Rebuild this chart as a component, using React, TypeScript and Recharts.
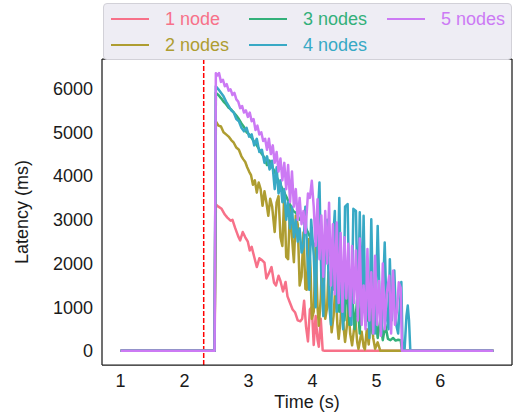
import { LineChart, Line, XAxis, YAxis, ReferenceLine, Label } from 'recharts';

// [time (s), latency (ms)]
const node1: [number, number][] = [
    [1.0, 10], [2.47, 10], [2.49, 3350], [2.53, 3300], [2.58, 3250], [2.63, 3120], [2.67, 3050], [2.72, 2980],
    [2.75, 3000], [2.79, 2820], [2.84, 2620], [2.87, 2530], [2.91, 2720], [2.95, 2600], [2.99, 2500], [3.02, 2300],
    [3.05, 2380], [3.09, 2150], [3.13, 1920], [3.17, 2120], [3.21, 2080], [3.25, 2020], [3.28, 1660], [3.32, 1780],
    [3.36, 1920], [3.40, 1560], [3.43, 1500], [3.47, 1720], [3.50, 1600], [3.54, 1360], [3.58, 1580], [3.61, 1250],
    [3.65, 1100], [3.69, 950], [3.73, 880], [3.77, 700], [3.81, 680], [3.84, 740], [3.87, 1150], [3.90, 560],
    [3.93, 220], [3.96, 950], [3.99, 1010], [4.02, 140], [4.05, 800], [4.08, 260], [4.10, 100], [4.13, 740],
    [4.16, 20], [4.18, 10], [6.83, 10],
];

const node2: [number, number][] = [
    [1.0, 10], [2.47, 10], [2.49, 5250], [2.53, 5150], [2.57, 5130], [2.61, 5000], [2.65, 4950], [2.69, 4900],
    [2.73, 4820], [2.77, 4760], [2.81, 4650], [2.85, 4600], [2.89, 4450], [2.92, 4380], [2.95, 4320], [2.98, 4200],
    [3.01, 4100], [3.04, 4020], [3.07, 3800], [3.10, 3900], [3.13, 3620], [3.16, 3850], [3.19, 3700], [3.22, 3320],
    [3.25, 3650], [3.28, 3400], [3.31, 3090], [3.34, 3480], [3.37, 3300], [3.41, 2720], [3.44, 3400], [3.47, 3540],
    [3.50, 2600], [3.53, 2400], [3.56, 3620], [3.59, 2150], [3.62, 2100], [3.65, 3320], [3.68, 2600], [3.71, 2030],
    [3.74, 3100], [3.77, 2900], [3.80, 1500], [3.83, 1700], [3.86, 2710], [3.89, 1420], [3.91, 1400], [3.94, 2560],
    [3.97, 1900], [3.99, 740], [4.02, 900], [4.05, 2400], [4.08, 1000], [4.10, 580], [4.13, 1200], [4.15, 2100],
    [4.18, 1500], [4.20, 740], [4.23, 1000], [4.25, 1800], [4.28, 900], [4.30, 430], [4.33, 800], [4.36, 1500],
    [4.39, 600], [4.41, 280], [4.44, 700], [4.46, 1350], [4.49, 500], [4.51, 210], [4.54, 600], [4.56, 1040],
    [4.59, 400], [4.62, 130], [4.65, 500], [4.67, 740], [4.70, 200], [4.72, 50], [4.75, 300], [4.77, 440],
    [4.80, 100], [4.82, 40], [4.85, 500], [4.88, 150], [4.92, 900], [4.95, 300], [4.98, 50], [5.02, 200],
    [5.06, 10], [6.83, 10],
];

const node3: [number, number][] = [
    [1.0, 10], [2.47, 10], [2.49, 5900], [2.53, 5850], [2.57, 5780], [2.61, 5700], [2.65, 5640], [2.69, 5560],
    [2.73, 5520], [2.77, 5450], [2.81, 5380], [2.85, 5300], [2.89, 5200], [2.93, 5120], [2.97, 5000], [3.01, 4950],
    [3.05, 4870], [3.09, 4780], [3.13, 4700], [3.17, 4600], [3.21, 4500], [3.25, 4420], [3.29, 4250], [3.33, 4350],
    [3.37, 4200], [3.41, 4100], [3.45, 3950], [3.50, 3800], [3.55, 3650], [3.60, 3500], [3.65, 3350], [3.70, 3200],
    [3.75, 3150], [3.80, 3000], [3.86, 3050], [3.90, 2800], [3.95, 2650], [4.00, 2500], [4.05, 2400], [4.10, 2350],
    [4.15, 2280], [4.20, 2150], [4.25, 2200], [4.30, 2180], [4.34, 1400], [4.38, 2000], [4.42, 900], [4.46, 1800],
    [4.50, 700], [4.54, 1500], [4.58, 600], [4.62, 1300], [4.66, 500], [4.70, 1200], [4.74, 400], [4.77, 1870],
    [4.82, 1000], [4.86, 700], [4.90, 1200], [4.94, 400], [4.98, 900], [5.02, 300], [5.06, 700], [5.10, 250],
    [5.14, 600], [5.18, 280], [5.22, 250], [5.26, 300], [5.30, 240], [5.34, 260], [5.38, 250], [5.40, 10],
    [6.83, 10],
];

const node4: [number, number][] = [
    [1.0, 10], [2.47, 10], [2.49, 6050], [2.53, 5980], [2.57, 5900], [2.61, 5820], [2.65, 5700], [2.69, 5600],
    [2.73, 5500], [2.77, 5450], [2.81, 5300], [2.85, 5250], [2.89, 5100], [2.93, 5020], [2.97, 5100], [3.01, 4900],
    [3.05, 4950], [3.09, 4700], [3.13, 4850], [3.17, 4550], [3.21, 4600], [3.25, 4300], [3.29, 4450], [3.33, 4150],
    [3.37, 4350], [3.41, 3700], [3.44, 4200], [3.47, 3600], [3.50, 3900], [3.53, 3400], [3.56, 3700], [3.59, 3000],
    [3.62, 3400], [3.65, 2800], [3.68, 3300], [3.71, 2600], [3.74, 3000], [3.77, 2500], [3.80, 2800], [3.83, 2250],
    [3.86, 2400], [3.89, 3300], [3.92, 2200], [3.95, 1400], [3.98, 3000], [4.02, 2200], [4.05, 1000], [4.08, 3000],
    [4.11, 3850], [4.14, 1600], [4.17, 800], [4.20, 2600], [4.23, 3000], [4.26, 1100], [4.29, 600], [4.32, 2500],
    [4.35, 3200], [4.38, 900], [4.42, 3500], [4.45, 1200], [4.48, 500], [4.51, 3300], [4.55, 3360], [4.58, 900],
    [4.61, 600], [4.64, 3250], [4.68, 3200], [4.71, 800], [4.74, 3170], [4.77, 1000], [4.80, 3090], [4.83, 600],
    [4.86, 1500], [4.89, 300], [4.92, 3010], [4.95, 800], [4.98, 400], [5.02, 2860], [5.05, 1200], [5.08, 400],
    [5.13, 2480], [5.16, 800], [5.19, 500], [5.21, 2100], [5.24, 700], [5.28, 1840], [5.31, 600], [5.34, 400],
    [5.39, 1580], [5.41, 10], [5.44, 20], [5.47, 800], [5.49, 1040], [5.51, 700], [5.53, 10], [6.83, 10],
];

const node5: [number, number][] = [
    [1.0, 10], [2.47, 10], [2.49, 6350], [2.52, 6300], [2.54, 6350], [2.57, 6150], [2.60, 6200], [2.63, 6050],
    [2.66, 6100], [2.69, 5950], [2.72, 5980], [2.75, 5850], [2.78, 5900], [2.81, 5750], [2.84, 5700], [2.87, 5550],
    [2.90, 5600], [2.93, 5450], [2.96, 5500], [2.99, 5350], [3.02, 5450], [3.05, 5250], [3.08, 5300], [3.11, 5050],
    [3.14, 5150], [3.17, 4950], [3.20, 5000], [3.23, 4800], [3.26, 4850], [3.29, 4600], [3.32, 4850], [3.35, 4500],
    [3.38, 4700], [3.41, 4300], [3.44, 4550], [3.47, 4100], [3.50, 4400], [3.53, 3900], [3.56, 4300], [3.59, 3700],
    [3.62, 4250], [3.65, 3400], [3.68, 4100], [3.71, 3300], [3.74, 3700], [3.77, 3000], [3.80, 3500], [3.83, 2900],
    [3.86, 3200], [3.89, 2700], [3.93, 3600], [3.96, 3500], [3.99, 3890], [4.02, 3300], [4.05, 2400], [4.08, 3470],
    [4.11, 2100], [4.14, 3100], [4.17, 1700], [4.20, 3200], [4.23, 2000], [4.26, 3390], [4.29, 1500], [4.32, 2900],
    [4.35, 1300], [4.38, 2940], [4.41, 1100], [4.44, 2700], [4.47, 900], [4.50, 2600], [4.53, 1200], [4.56, 2450],
    [4.59, 800], [4.62, 2400], [4.65, 1100], [4.68, 2300], [4.71, 700], [4.74, 2570], [4.77, 600], [4.80, 1500],
    [4.83, 500], [4.86, 2330], [4.89, 700], [4.92, 1800], [4.95, 400], [4.98, 2180], [5.01, 600], [5.04, 1600],
    [5.07, 350], [5.10, 2000], [5.13, 500], [5.16, 1300], [5.20, 1720], [5.23, 400], [5.26, 1835], [5.29, 600],
    [5.32, 900], [5.35, 1570], [5.38, 1450], [5.40, 10], [6.83, 10],
];

const seriesNames = ['1 node', '2 nodes', '3 nodes', '4 nodes', '5 nodes'];
const seriesColors = ['#f77189', '#ae9d31', '#33b07a', '#38a9c5', '#cc7af4'];
const seriesData = [node1, node2, node3, node4, node5];

const xTicks = [1, 2, 3, 4, 5, 6];
const yTicks = [0, 1000, 2000, 3000, 4000, 5000, 6000];
const failureTime = 2.3;

const FONT = '"Liberation Sans", Arial, sans-serif';
const INK = '#1a1a1a';

const toRows = (pts: [number, number][]) => pts.map(([t, v]) => ({ t, v }));

// legend laid out as matplotlib does with ncol=3 (column-major)
const legendCols = [[0, 1], [2, 3], [4]];

function LegendBox() {
    const colX = [7, 145, 283];
    return (
        <div style={{
            position: 'absolute', left: 103, top: 3, width: 407, height: 55,
            background: '#eeedf4', border: '1px solid #d2d1d8', borderRadius: 4,
            fontFamily: FONT, fontSize: 18,
        }}>
            {legendCols.map((col, ci) => col.map((si, ri) => (
                <div key={si} style={{ position: 'absolute', left: colX[ci], top: 3 + ri * 26, height: 24, display: 'flex', alignItems: 'center' }}>
                    <div style={{ width: 38, height: 2.5, background: seriesColors[si] }} />
                    <span style={{ marginLeft: 16, color: seriesColors[si], whiteSpace: 'nowrap' }}>{seriesNames[si]}</span>
                </div>
            )))}
        </div>
    );
}

export default function App() {
    const tickStyle = { fontSize: 18, fill: INK, fontFamily: FONT };
    return (
        <div style={{ position: 'absolute', left: 0, top: 0, width: 516, height: 416, background: '#fff' }}>
            <LineChart width={516} height={416} margin={{ top: 0, right: 0, bottom: 0, left: 0 }}>
                <XAxis
                    dataKey="t"
                    type="number"
                    domain={[0.71, 7.12]}
                    ticks={xTicks}
                    allowDataOverflow
                    height={51}
                    tickLine={false}
                    tickSize={0}
                    tickMargin={9}
                    tick={tickStyle}
                    axisLine={{ stroke: INK, strokeWidth: 1.25 }}
                >
                    <Label
                        content={({ viewBox }: any) => (
                            <text x={viewBox.x + viewBox.width / 2} y={408} textAnchor="middle"
                                style={{ fontSize: 18, fill: INK, fontFamily: FONT }}>
                                Time (s)
                            </text>
                        )}
                    />
                </XAxis>
                <XAxis xAxisId="top" orientation="top" type="number" domain={[0.71, 7.12]} height={59} tick={false} tickLine={false} axisLine={{ stroke: INK, strokeWidth: 1.25 }} />
                <YAxis
                    type="number"
                    domain={[-318, 6673]}
                    ticks={yTicks}
                    allowDataOverflow
                    width={102}
                    tickLine={false}
                    tickSize={0}
                    tickMargin={9}
                    tick={tickStyle}
                    axisLine={{ stroke: INK, strokeWidth: 1.25 }}
                >
                    <Label
                        content={({ viewBox }: any) => {
                            const cy = viewBox.y + viewBox.height / 2;
                            return (
                                <text x={22} y={cy} transform={`rotate(-90, 22, ${cy})`} textAnchor="middle" dominantBaseline="central"
                                    style={{ fontSize: 18, fill: INK, fontFamily: FONT }}>
                                    Latency (ms)
                                </text>
                            );
                        }}
                    />
                </YAxis>
                <YAxis yAxisId="right" orientation="right" width={4} tick={false} tickLine={false} axisLine={{ stroke: INK, strokeWidth: 1.25 }} />
                <ReferenceLine x={failureTime} stroke="#ff0000" strokeDasharray="5 2" strokeWidth={1.5} />
                {seriesData.map((pts, i) => (
                    <Line
                        key={seriesNames[i]}
                        data={toRows(pts)}
                        dataKey="v"
                        name={seriesNames[i]}
                        type="linear"
                        stroke={seriesColors[i]}
                        strokeWidth={2.5}
                        strokeLinejoin="round"
                        dot={false}
                        isAnimationActive={false}
                    />
                ))}
            </LineChart>
            <LegendBox />
        </div>
    );
}
